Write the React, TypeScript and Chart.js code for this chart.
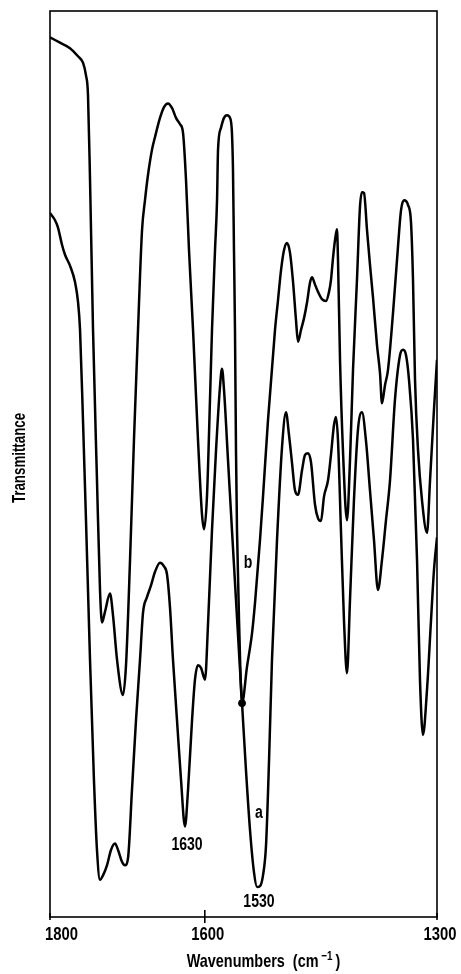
import React, { useEffect, useRef } from "react";
import { Chart, registerables } from "chart.js";

Chart.register(...registerables);

// Curve a (lower trace) — wavenumber (cm-1) and transmittance (arbitrary %)
const WN_A = [
  1800, 1793.5, 1789.7, 1784.5, 1780.6, 1774.2, 1767.7, 1763.8, 1761.2, 1757.4,
  1753.5, 1748.3, 1743.2, 1739.3, 1735.4, 1731.5, 1726.4, 1721.2, 1716.0, 1712.1,
  1707.0, 1703.1, 1699.2, 1694.1, 1688.9, 1683.7, 1679.8, 1674.7, 1669.5, 1664.3,
  1657.9, 1652.7, 1648.8, 1645.0, 1641.1, 1635.9, 1630.7, 1625.6, 1621.7, 1616.5,
  1612.7, 1608.8, 1604.9, 1599.7, 1595.9, 1590.7, 1585.5, 1580.4, 1577.8, 1575.2,
  1570.0, 1564.9, 1559.7, 1554.5, 1551.9, 1546.8, 1541.6, 1536.4, 1532.5, 1528.7,
  1524.8, 1520.9, 1517.0, 1513.2, 1506.7, 1500.2, 1495.1, 1491.2, 1487.3, 1483.5,
  1479.6, 1474.4, 1470.5, 1466.6, 1462.8, 1457.6, 1453.7, 1449.9, 1446.0, 1440.8,
  1437.0, 1433.1, 1430.5, 1427.9, 1424.1, 1420.2, 1416.3, 1412.4, 1407.3, 1402.1,
  1396.9, 1391.8, 1386.6, 1381.4, 1376.3, 1371.1, 1365.9, 1360.7, 1354.3, 1347.8,
  1343.9, 1340.0, 1336.2, 1331.0, 1325.8, 1322.0, 1318.1, 1312.9, 1307.7, 1303.9,
  1300,
];
const T_A = [
  77.7, 76.9, 76.1, 74.2, 73.1, 71.9, 70.1, 67.9, 64.8, 54.9,
  43.8, 28.4, 15.1, 7.4, 4.1, 4.6, 5.7, 7.4, 8.1, 7.4,
  6.1, 5.7, 6.5, 14.0, 21.7, 28.4, 33.6, 35.3, 36.6, 38.1,
  39.1, 38.7, 37.8, 34.2, 28.4, 21.7, 15.1, 10.0, 14.0, 21.7,
  26.2, 27.8, 27.5, 26.2, 32.2, 42.7, 51.5, 58.5, 60.5, 58.2,
  50.4, 42.7, 35.0, 27.3, 23.6, 16.2, 9.6, 4.9, 3.3, 3.4,
  4.6, 7.9, 17.3, 28.4, 41.6, 51.9, 55.7, 53.2, 50.1, 47.1,
  46.6, 49.3, 51.0, 51.2, 50.2, 45.5, 44.0, 43.7, 46.4, 48.2,
  51.0, 54.3, 55.2, 52.6, 42.7, 32.8, 26.9, 35.0, 46.0, 53.8,
  55.7, 52.6, 47.1, 41.6, 36.1, 39.4, 43.8, 48.2, 57.1, 62.0,
  62.6, 62.0, 59.3, 52.7, 39.4, 26.2, 20.1, 25.1, 32.8, 38.3,
  41.9,
];

// Curve b (upper trace)
const WN_B = [
  1800, 1787.1, 1774.2, 1763.8, 1757.4, 1753.5, 1750.9, 1748.3, 1744.4, 1739.3,
  1735.4, 1732.8, 1728.9, 1722.5, 1718.6, 1713.4, 1705.7, 1701.8, 1696.6, 1691.5,
  1686.3, 1681.1, 1677.3, 1673.4, 1668.2, 1664.3, 1657.9, 1652.7, 1647.5, 1642.4,
  1637.2, 1632.0, 1628.2, 1624.3, 1620.4, 1615.2, 1608.8, 1603.6, 1601.0, 1597.2,
  1593.3, 1590.7, 1586.8, 1584.2, 1582.9, 1579.1, 1575.2, 1571.3, 1567.4, 1564.9,
  1563.6, 1562.3, 1561.0, 1559.7, 1558.4, 1555.8, 1551.9, 1545.5, 1539.0, 1535.1,
  1528.7, 1524.8, 1518.3, 1509.3, 1505.4, 1501.5, 1497.7, 1493.8, 1489.9, 1486.0,
  1482.2, 1479.6, 1475.7, 1471.8, 1468.0, 1464.1, 1461.5, 1457.6, 1453.7, 1448.6,
  1443.4, 1439.5, 1437.0, 1434.4, 1431.8, 1429.2, 1427.9, 1425.3, 1421.5, 1416.3,
  1412.4, 1408.5, 1403.4, 1399.5, 1396.9, 1394.3, 1390.4, 1386.6, 1382.7, 1377.5,
  1373.6, 1371.1, 1367.2, 1363.3, 1356.8, 1350.4, 1346.5, 1342.6, 1337.5, 1333.6,
  1331.0, 1328.4, 1324.5, 1319.4, 1312.9, 1309.0, 1303.9, 1300,
];
const T_B = [
  97.1, 96.5, 95.9, 95.0, 94.3, 92.9, 90.7, 81.4, 64.8, 48.2,
  36.1, 32.5, 33.7, 35.7, 33.3, 28.4, 24.5, 27.8, 39.4, 52.7,
  64.8, 75.8, 79.1, 81.9, 84.7, 86.1, 88.2, 89.4, 89.8, 89.3,
  88.2, 87.5, 86.6, 81.4, 73.6, 64.8, 52.7, 44.4, 42.8, 46.4,
  57.1, 64.8, 73.6, 79.1, 84.7, 87.1, 88.2, 88.5, 88.2, 86.5,
  82.5, 73.6, 64.8, 51.5, 42.7, 32.8, 23.6, 27.6, 31.3, 34.7,
  41.6, 46.4, 54.9, 64.8, 68.1, 71.4, 73.6, 74.4, 73.3, 70.1,
  65.9, 63.5, 64.8, 66.1, 67.8, 70.0, 70.6, 69.8, 69.0, 68.2,
  68.0, 69.0, 70.3, 72.7, 74.7, 75.9, 72.5, 61.5, 51.5, 43.8,
  50.4, 60.4, 70.3, 78.4, 80.0, 79.9, 75.8, 72.0, 68.4, 63.1,
  60.0, 56.7, 58.7, 60.4, 66.7, 74.0, 78.0, 79.1, 78.6, 76.7,
  70.3, 59.3, 51.5, 46.0, 42.4, 48.2, 56.0, 61.5,
];

// Marked crossing point of the two traces
const CROSS_WN = [1551.9];
const CROSS_T = [23.6];

// Axis ticks
const X_TICKS = [1800, 1600, 1300];
const X_TICK_LABELS = ["1800", "1600", "1300"];

// Text annotations (data-space anchors)
const NOTE_TEXT = ["1630", "1530", "a", "b"];
const NOTE_WN = [1623, 1530, 1530, 1544.2];
const NOTE_T = [7.9, 1.7, 11.5, 39.1];

const FONT = '"Liberation Sans", Arial, "DejaVu Sans", sans-serif';

function condText(
  ctx: CanvasRenderingContext2D,
  text: string,
  x: number,
  y: number,
  size: number,
  align: CanvasTextAlign,
  sx = 0.8,
  weight = "bold"
) {
  ctx.save();
  ctx.translate(x, y);
  ctx.scale(sx, 1);
  ctx.font = `${weight} ${size}px ${FONT}`;
  ctx.textAlign = align;
  ctx.textBaseline = "middle";
  ctx.fillStyle = "#000";
  ctx.fillText(text, 0, 0);
  ctx.restore();
}

const decorPlugin = {
  id: "decor",
  afterDraw(chart: any) {
    const { ctx, chartArea, scales } = chart;
    const { left, top, right, bottom } = chartArea;
    const xs = scales.x;
    const ys = scales.y;
    ctx.save();
    ctx.strokeStyle = "#000";
    ctx.lineWidth = 1.6;
    ctx.strokeRect(left, top, right - left, bottom - top);

    // ticks
    X_TICKS.forEach((v, i) => {
      const px = xs.getPixelForValue(v);
      ctx.beginPath();
      if (i === 1) {
        ctx.moveTo(px, bottom - 7);
        ctx.lineTo(px, bottom + 6);
      } else {
        ctx.moveTo(px, bottom - 4);
        ctx.lineTo(px, bottom + 3);
      }
      ctx.stroke();
      const label = X_TICK_LABELS[i];
      if (i === 0) condText(ctx, label, px - 5, bottom + 18, 19, "left", 0.78);
      else condText(ctx, label, px + 3, bottom + 18, 19, "center", 0.78);
    });

    // x title with superscript
    const cx = (left + right) / 2 + 20;
    const ty = bottom + 45;
    const sx = 0.76;
    ctx.font = `bold 19px ${FONT}`;
    const main = "Wavenumbers  (cm";
    const wMain = ctx.measureText(main).width * sx;
    ctx.font = `bold 13px ${FONT}`;
    const sup = " \u22121";
    const wSup = ctx.measureText(sup).width * sx;
    ctx.font = `bold 19px ${FONT}`;
    const end = ")";
    const wEnd = ctx.measureText(end).width * sx;
    const total = wMain + wSup + 3 + wEnd;
    let x0 = cx - total / 2;
    condText(ctx, main, x0, ty, 19, "left", sx);
    x0 += wMain;
    condText(ctx, sup, x0, ty - 6, 13, "left", sx);
    x0 += wSup + 3;
    condText(ctx, end, x0, ty, 19, "left", sx);

    // y title
    ctx.save();
    ctx.translate(20, (top + bottom) / 2 - 6);
    ctx.rotate(-Math.PI / 2);
    condText(ctx, "Transmittance", 0, 0, 19, "center", 0.7);
    ctx.restore();

    // annotations
    NOTE_TEXT.forEach((t, i) => {
      const px = xs.getPixelForValue(NOTE_WN[i]);
      const py = ys.getPixelForValue(NOTE_T[i]);
      condText(ctx, t, px, py, 18, "center", 0.78);
    });
    ctx.restore();
  },
};

export default function App() {
  const ref = useRef<HTMLCanvasElement | null>(null);
  useEffect(() => {
    if (!ref.current) return;
    const toPts = (xs: number[], ys: number[]) => xs.map((x, i) => ({ x, y: ys[i] }));
    const chart = new Chart(ref.current, {
      type: "line",
      data: {
        datasets: [
          {
            label: "a",
            data: toPts(WN_A, T_A),
            borderColor: "#000",
            borderWidth: 2.5,
            pointRadius: 0,
            cubicInterpolationMode: "monotone",
            fill: false,
          },
          {
            label: "b",
            data: toPts(WN_B, T_B),
            borderColor: "#000",
            borderWidth: 2.5,
            pointRadius: 0,
            cubicInterpolationMode: "monotone",
            fill: false,
          },
          {
            label: "cross",
            data: toPts(CROSS_WN, CROSS_T),
            borderColor: "#000",
            backgroundColor: "#000",
            pointRadius: 3.5,
            showLine: false,
          },
        ],
      },
      options: {
        animation: false,
        responsive: false,
        devicePixelRatio: 1,
        layout: { padding: { left: 50, right: 24, top: 11, bottom: 57 } },
        plugins: { legend: { display: false }, tooltip: { enabled: false } },
        scales: {
          x: { type: "linear", min: 1300, max: 1800, reverse: true, display: false },
          y: { type: "linear", min: 0, max: 100, display: false },
        },
      },
      plugins: [decorPlugin],
    });
    return () => chart.destroy();
  }, []);
  return (
    <div style={{ position: "fixed", left: 0, top: 0, width: 461, height: 974, background: "#fff" }}>
      <canvas ref={ref} width={461} height={974} />
    </div>
  );
}
